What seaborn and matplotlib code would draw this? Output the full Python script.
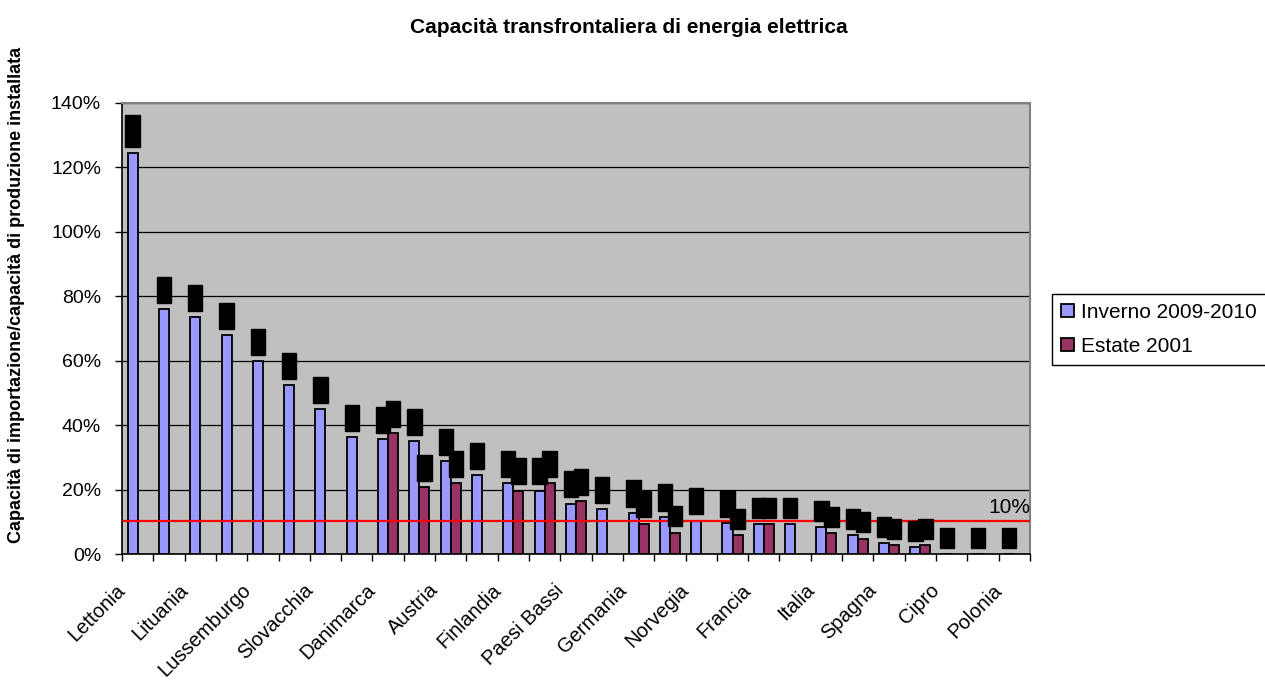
import numpy as np
import pandas as pd
import matplotlib
matplotlib.use('Agg')
import matplotlib.pyplot as plt
import matplotlib.transforms as mtransforms
import seaborn as sns

# Dati (rapporto capacità di importazione / capacità installata)
paesi = ['Lettonia', 'Estonia', 'Lituania', 'Slovenia', 'Lussemburgo', 'Ungheria',
         'Slovacchia', 'Rep. Ceca', 'Danimarca', 'Svezia', 'Austria', 'Bulgaria',
         'Finlandia', 'Belgio', 'Paesi Bassi', 'Romania', 'Germania', 'Portogallo',
         'Norvegia', 'Grecia', 'Francia', 'Svizzera', 'Italia', 'Irlanda',
         'Spagna', 'Regno Unito', 'Cipro', 'Malta', 'Polonia']
inverno = [1.245, 0.760, 0.736, 0.680, 0.600, 0.525, 0.450, 0.364, 0.358, 0.351,
           0.290, 0.245, 0.222, 0.198, 0.158, 0.140, 0.129, 0.117, 0.105, 0.098,
           0.093, 0.093, 0.086, 0.060, 0.036, 0.024, 0.0, 0.0, 0.0]
estate = [np.nan] * 8 + [0.376, 0.209, 0.222, np.nan, 0.198, 0.221, 0.166, np.nan,
                         0.096, 0.068, np.nan, 0.061, 0.093, np.nan, 0.067, 0.049,
                         0.030, 0.030, np.nan, np.nan, np.nan]
serie = ['Inverno 2009-2010', 'Estate 2001']
colori = ['#9999FF', '#993366']
soglia = 0.104

df = pd.DataFrame({
    'Paese': paesi * 2,
    'Serie': [serie[0]] * len(paesi) + [serie[1]] * len(paesi),
    'Valore': inverno + estate,
}).dropna()

plt.rcParams['font.family'] = ['Liberation Sans', 'DejaVu Sans']

fig = plt.figure(figsize=(12.65, 6.82), dpi=100)
ax = fig.add_axes([0.0964, 0.187, 0.7178, 0.662])
ax.set_facecolor('#C0C0C0')

sns.barplot(data=df, x='Paese', y='Valore', hue='Serie', order=paesi, hue_order=serie,
            palette=colori, saturation=1, width=0.64, edgecolor='black', linewidth=1.3,
            errorbar=None, ax=ax, zorder=3)

# etichette dati (rese come blocchi neri come nell'originale)
for cont in ax.containers:
    etich = [f'{v:.0%}' for v in cont.datavalues]
    ax.bar_label(cont, labels=etich, padding=6, rotation=90, fontsize=7.8, color='black',
                 bbox=dict(boxstyle='square,pad=0.2', fc='black', ec='black'), zorder=5)

ax.axhline(soglia, color='red', lw=1.6, zorder=4)
ax.text(28.5, 0.117, '10%', ha='right', va='bottom', fontsize=15)

ax.set_ylim(0, 1.4)
ax.set_xlim(-0.5, len(paesi) - 0.5)
ax.set_yticks(np.arange(0, 1.41, 0.2))
ax.set_yticklabels([f'{t:.0%}' for t in np.arange(0, 1.41, 0.2)], fontsize=14)
ax.yaxis.grid(True, color='black', lw=0.9, zorder=0)
ax.set_axisbelow(True)
ax.tick_params(axis='y', length=5, width=1, pad=10)

ax.set_xticks(range(len(paesi)))
ax.set_xticklabels([p if i % 2 == 0 else '' for i, p in enumerate(paesi)],
                   rotation=45, ha='right', rotation_mode='anchor', fontsize=14.5)
ax.set_xticks(np.arange(-0.5, len(paesi), 1), minor=True)
ax.tick_params(axis='x', which='major', length=0, pad=10)
ax.tick_params(axis='x', which='minor', length=5, width=1)
ax.set_xlabel('')
ax.set_ylabel('')

# sposta le etichette in basso a sinistra come nell'originale
sposta = mtransforms.ScaledTranslation(-0.22, -0.12, fig.dpi_scale_trans)
for lab in ax.get_xticklabels():
    lab.set_transform(lab.get_transform() + sposta)

for s in ['left', 'bottom']:
    ax.spines[s].set_color('black')
    ax.spines[s].set_linewidth(1.2)
for s in ['top', 'right']:
    ax.spines[s].set_color('#808080')
    ax.spines[s].set_linewidth(1.5)

ax.legend(loc='center left', bbox_to_anchor=(1052 / 1265, 1 - 329.5 / 682),
          bbox_transform=fig.transFigure, borderaxespad=0, fontsize=15, frameon=True,
          fancybox=False, edgecolor='black', framealpha=1, handlelength=0.6,
          handleheight=0.6, handletextpad=0.35, borderpad=0.45, labelspacing=0.7,
          title=None)

fig.text(0.497, 0.96, 'Capacità transfrontaliera di energia elettrica',
         ha='center', va='center', fontsize=15, fontweight='bold')
fig.text(0.0134, 0.567, 'Capacità di importazione/capacità di produzione installata',
         ha='center', va='center', rotation=90, fontsize=13, fontweight='bold')

fig.savefig('out.png', dpi=100)
